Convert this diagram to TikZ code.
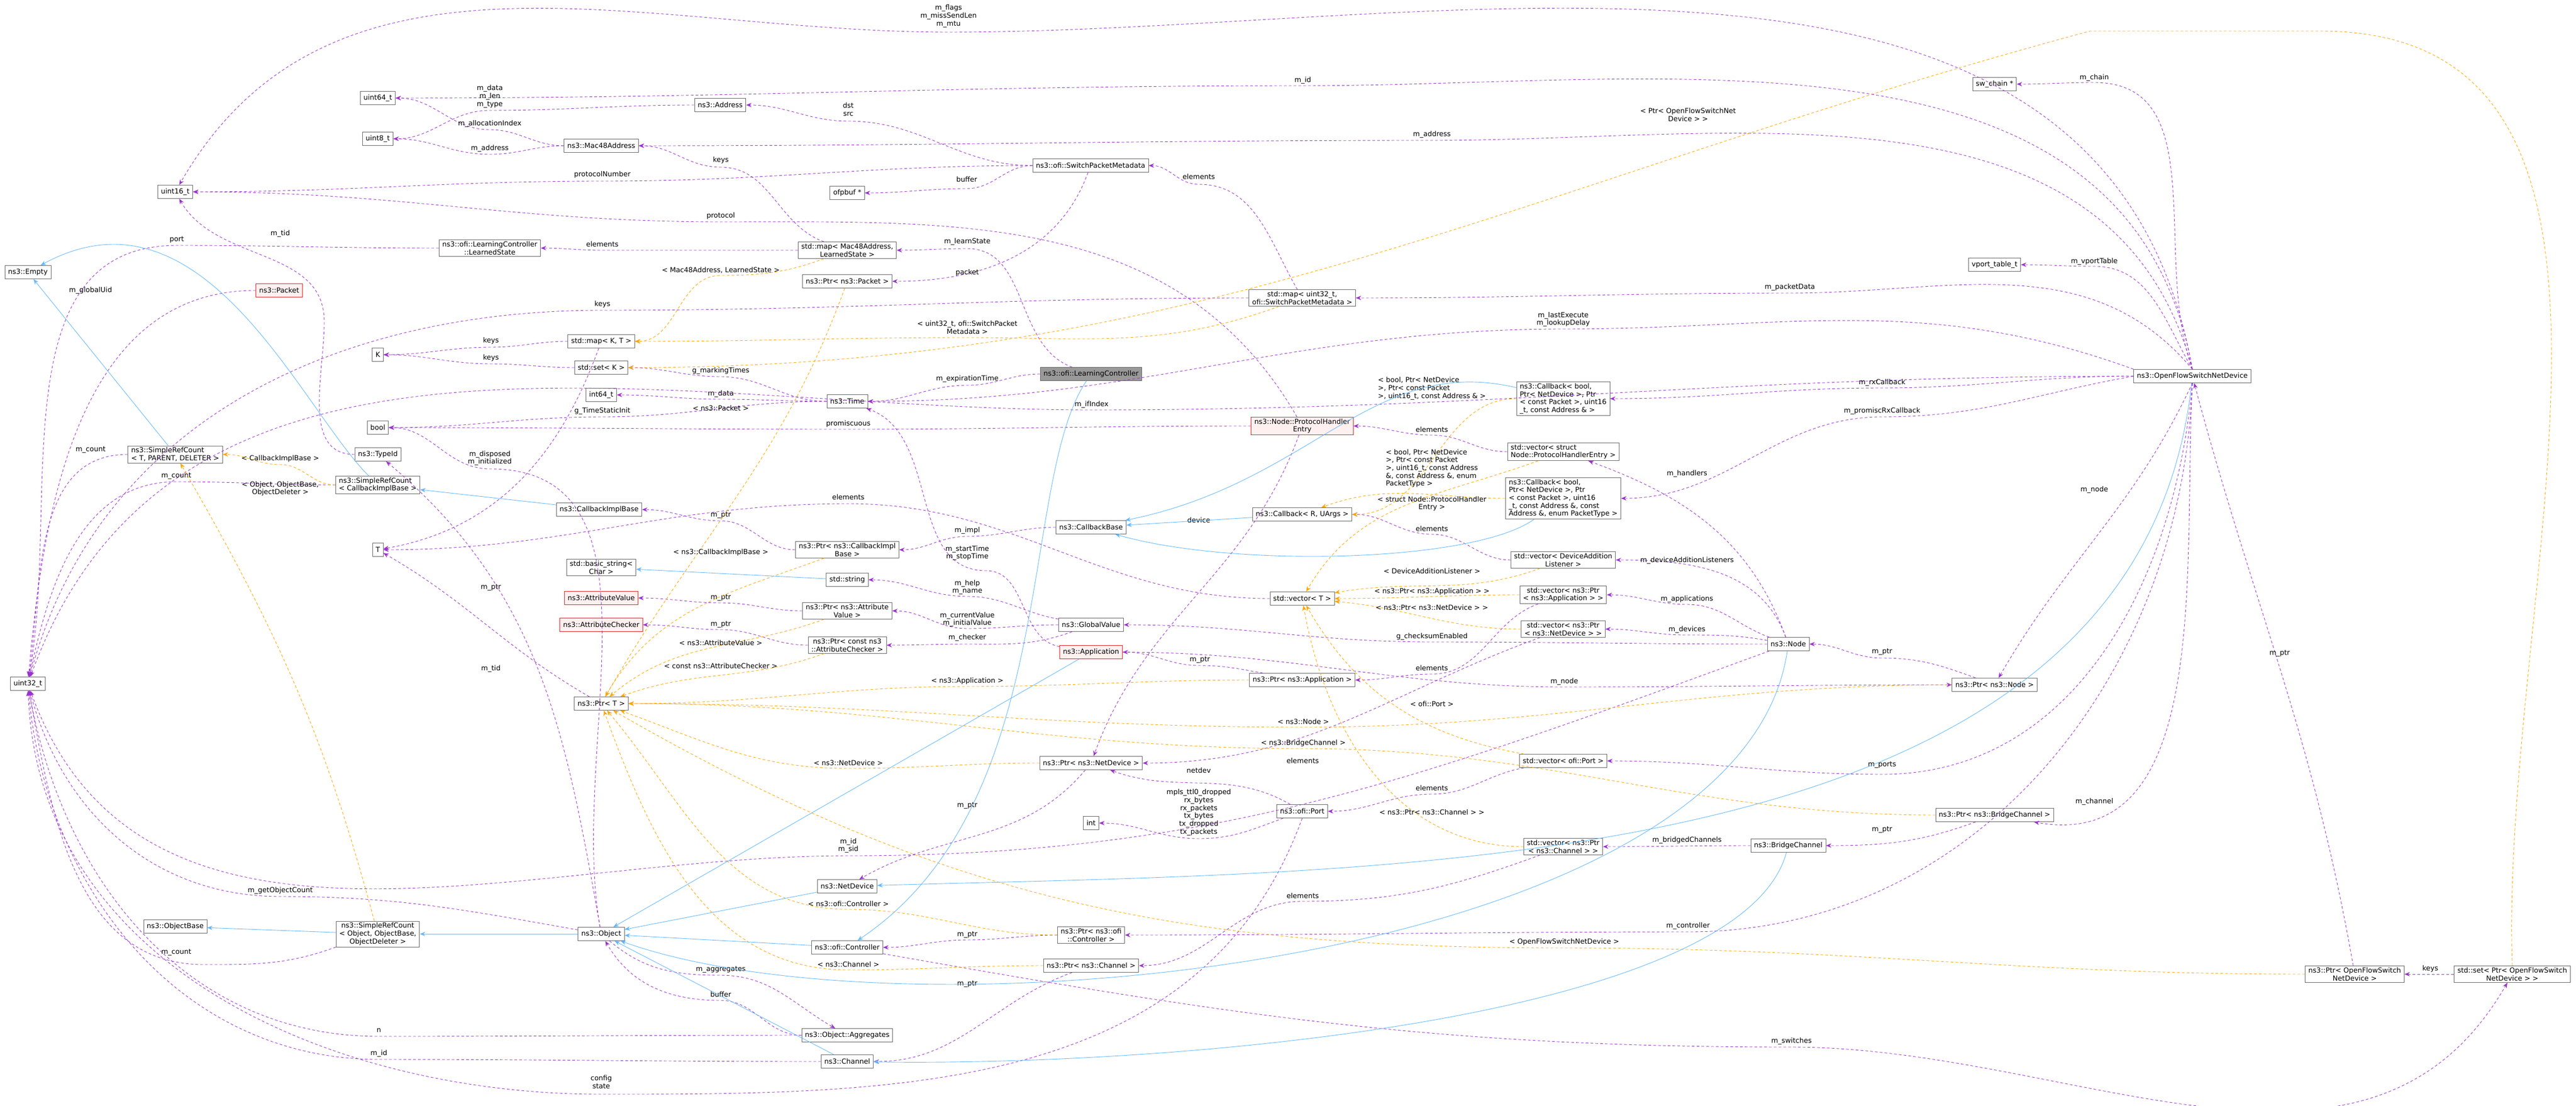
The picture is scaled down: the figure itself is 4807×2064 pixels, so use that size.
\documentclass[tikz,border=0pt]{standalone}
\usepackage{fontspec}
\setmainfont{DejaVu Sans}
\usetikzlibrary{arrows.meta}
\definecolor{boxline}{HTML}{666666}
\definecolor{usecol}{HTML}{9A32CD}
\definecolor{tplcol}{HTML}{FFA500}
\definecolor{inhcol}{HTML}{63B8FF}
\definecolor{redline}{HTML}{E02020}
\definecolor{redfill}{HTML}{FFF0F0}
\definecolor{focusfill}{HTML}{999999}
\tikzstyle{class} = [rectangle, draw=boxline, fill=white, line width=0.09pt, inner xsep=0.6pt, inner ysep=0.3pt, minimum height=2.5pt, align=center, font=\fontsize{1.3}{1.47}\selectfont]
\tikzstyle{redclass} = [class, draw=redline, fill=redfill]
\tikzstyle{focusclass} = [class, fill=focusfill]
\tikzstyle{lbl} = [align=center, inner sep=0.1pt, font=\fontsize{1.3}{1.47}\selectfont]
\tikzstyle{usage} = [draw=usecol, line width=0.09pt, dash pattern=on 0.5pt off 0.4pt, -{Stealth[length=1pt,width=0.8pt]}]
\tikzstyle{templ} = [draw=tplcol, line width=0.09pt, dash pattern=on 0.5pt off 0.4pt, -{Stealth[length=1pt,width=0.8pt]}]
\tikzstyle{inherit} = [draw=inhcol, line width=0.09pt, -{Stealth[length=1pt,width=0.8pt]}]
\tikzstyle{left} = [out=180, in=0]

\begin{document}
\begin{tikzpicture}[x=0.1pt, y=-0.1pt]
\useasboundingbox (0,0) rectangle (4807,2064);

% Left column
\node (u64) [class] at (705,183) {uint64\_t};
\node (u8) [class] at (705,259) {uint8\_t};
\node (mac) [class] at (1122,272) {ns3::Mac48Address};
\node (u16) [class] at (327,358) {uint16\_t};
\node (empty) [class] at (52,508) {ns3::Empty};
\node (learned) [class] at (914,463) {ns3::ofi::LearningController\\::LearnedState};
\node (packet) [redclass] at (521,542) {ns3::Packet};
\node (kk) [class] at (705,662) {K};
\node (mapkt) [class] at (1122,637) {std::map< K, T >};
\node (setk) [class] at (1122,686) {std::set< K >};
\node (i64) [class] at (1122,737) {int64\_t};
\node (bool) [class] at (705,798) {bool};
\node (typeid) [class] at (705,848) {ns3::TypeId};
\node (srcT) [class, align=left] at (327,848) {ns3::SimpleRefCount\\< T, PARENT, DELETER >};
\node (srcCb) [class, align=left] at (705,905) {ns3::SimpleRefCount\\< CallbackImplBase >};
\node (cbimpl) [class] at (1118,951) {ns3::CallbackImplBase};
\node (tt) [class] at (705,1026) {T};
\node (bstring) [class] at (1122,1059) {std::basic\_string<\\Char >};
\node (attrval) [redclass] at (1122,1116) {ns3::AttributeValue};
\node (attrchk) [redclass] at (1122,1166) {ns3::AttributeChecker};
\node (u32) [class] at (52,1276) {uint32\_t};
\node (ptrT) [class] at (1122,1313) {ns3::Ptr< T >};
\node (objbase) [class] at (327,1729) {ns3::ObjectBase};
\node (srcObj) [class] at (705,1743) {ns3::SimpleRefCount\\< Object, ObjectBase,\\ObjectDeleter >};
\node (object) [class] at (1122,1743) {ns3::Object};

% Middle columns
\node (address) [class] at (1344,196) {ns3::Address};
\node (spm) [class] at (2035,309) {ns3::ofi::SwitchPacketMetadata};
\node (ofpbuf) [class] at (1581,360) {ofpbuf *};
\node (mapLS) [class] at (1581,467) {std::map< Mac48Address,\\LearnedState >};
\node (ptrPkt) [class] at (1581,525) {ns3::Ptr< ns3::Packet >};
\node (lc) [focusclass] at (2036,698) {ns3::ofi::LearningController};
\node (time) [class] at (1581,749) {ns3::Time};
\node (cbbase) [class] at (2036,984) {ns3::CallbackBase};
\node (ptrCb) [class] at (1581,1026) {ns3::Ptr< ns3::CallbackImpl\\Base >};
\node (string) [class] at (1581,1082) {std::string};
\node (ptrAV) [class] at (1581,1140) {ns3::Ptr< ns3::Attribute\\Value >};
\node (ptrAC) [class] at (1581,1204) {ns3::Ptr< const ns3\\::AttributeChecker >};
\node (gval) [class] at (2036,1166) {ns3::GlobalValue};
\node (app) [redclass] at (2036,1217) {ns3::Application};
\node (ptrND) [class] at (2036,1424) {ns3::Ptr< ns3::NetDevice >};
\node (int) [class] at (2036,1536) {int};
\node (netdev) [class] at (1581,1654) {ns3::NetDevice};
\node (ptrCtl) [class] at (2036,1745) {ns3::Ptr< ns3::ofi\\::Controller >};
\node (ctl) [class] at (1581,1768) {ns3::ofi::Controller};
\node (ptrCh) [class] at (2036,1802) {ns3::Ptr< ns3::Channel >};
\node (aggr) [class] at (1581,1932) {ns3::Object::Aggregates};
\node (channel) [class] at (1581,1981) {ns3::Channel};

\node (mapSPM) [class] at (2430,556) {std::map< uint32\_t,\\ofi::SwitchPacketMetadata >};
\node (phe) [redclass] at (2430,795) {ns3::Node::ProtocolHandler\\Entry};
\node (cbR) [class] at (2430,960) {ns3::Callback< R, UArgs >};
\node (vecT) [class] at (2430,1117) {std::vector< T >};
\node (ptrApp) [class] at (2430,1269) {ns3::Ptr< ns3::Application >};
\node (port) [class] at (2430,1514) {ns3::ofi::Port};

\node (cb4) [class, align=left] at (2917,744) {ns3::Callback< bool,\\ Ptr< NetDevice >, Ptr\\< const Packet >, uint16\\\_t, const Address \& >};
\node (vecPHE) [class, align=left] at (2917,843) {std::vector< struct\\ Node::ProtocolHandlerEntry >};
\node (cb5) [class, align=left] at (2917,930) {ns3::Callback< bool,\\ Ptr< NetDevice >, Ptr\\< const Packet >, uint16\\\_t, const Address \&, const\\ Address \&, enum PacketType >};
\node (vecDAL) [class] at (2917,1045) {std::vector< DeviceAddition\\Listener >};
\node (vecApp) [class] at (2917,1110) {std::vector< ns3::Ptr\\< ns3::Application > >};
\node (vecND) [class] at (2917,1174) {std::vector< ns3::Ptr\\< ns3::NetDevice > >};
\node (vecPort) [class] at (2917,1420) {std::vector< ofi::Port >};
\node (vecCh) [class] at (2917,1580) {std::vector< ns3::Ptr\\< ns3::Channel > >};
\node (node) [class] at (3337,1202) {ns3::Node};
\node (bridge) [class] at (3337,1578) {ns3::BridgeChannel};

% Right side
\node (swchain) [class] at (3722,157) {sw\_chain *};
\node (vport) [class] at (3722,494) {vport\_table\_t};
\node (ofsnd) [class] at (4091,702) {ns3::OpenFlowSwitchNetDevice};
\node (ptrNode) [class] at (3722,1278) {ns3::Ptr< ns3::Node >};
\node (ptrBr) [class] at (3722,1521) {ns3::Ptr< ns3::BridgeChannel >};
\node (ptrOF) [class] at (4394,1818) {ns3::Ptr< OpenFlowSwitch\\NetDevice >};
\node (setOF) [class] at (4688,1818) {std::set< Ptr< OpenFlowSwitch\\NetDevice > >};

% Member links
\draw [usage] (ofsnd.north) to[out=100, in=0] (1770,60) to[out=180, in=60] (u16) node[lbl, at={(1770,30)}] {m\_flags\\m\_missSendLen\\m\_mtu};
\draw [usage] (ofsnd.north) to[out=100, in=0] (2431,160) to[left] (u64) node[lbl, at={(2431,150)}] {m\_id};
\draw [usage] (ofsnd.north) to[out=105, in=0] (2672,262) to[left] (mac) node[lbl, at={(2672,251)}] {m\_address};
\draw [usage] (ofsnd.north) to[out=110, in=0] (3908,154) to[left] (swchain) node[lbl, at={(3908,145)}] {m\_chain};
\draw [usage] (ofsnd.north) to[out=120, in=0] (3908,497) to[left] (vport) node[lbl, at={(3908,488)}] {m\_vportTable};
\draw [usage] (ofsnd.north) to[out=130, in=0] (3340,547) to[left] (mapSPM) node[lbl, at={(3340,536)}] {m\_packetData};
\draw [usage] (ofsnd.north west) to[out=160, in=0] (2917,614) to[left] (time) node[lbl, at={(2917,596)}] {m\_lastExecute\\m\_lookupDelay};
\draw [usage] (mac) to[left] (914,242) to[left] (u64) node[lbl, at={(914,231)}] {m\_allocationIndex};
\draw [usage] (address) to[left] (914,206) to[left] (u8) node[lbl, at={(914,180)}] {m\_data\\m\_len\\m\_type};
\draw [usage] (mac) to[left] (914,288) to[left] (u8) node[lbl, at={(914,277)}] {m\_address};
\draw [usage] (spm) to[left] (1583,226) to[left] (address) node[lbl, at={(1583,204)}] {dst\\src};
\draw [usage] (mapLS) to[out=160, in=0] (1345,312) to[left] (mac) node[lbl, at={(1345,299)}] {keys};
\draw [usage] (spm) to[left] (1124,338) to[left] (u16) node[lbl, at={(1124,326)}] {protocolNumber};
\draw [usage] (spm) to[left] (1804,352) to[left] (ofpbuf) node[lbl, at={(1804,335)}] {buffer};
\draw [usage] (spm) to[out=-110, in=0] (ptrPkt) node[lbl, at={(1805,509)}] {packet};
\draw [usage] (mapSPM) to[out=120, in=0] (2237,344) to[left] (spm) node[lbl, at={(2237,330)}] {elements};
\draw [usage] (phe) to[out=120, in=0] (1345,414) to[left] (u16) node[lbl, at={(1345,403)}] {protocol};
\draw [usage] (mapLS) to[left] (1124,467) to[left] (learned) node[lbl, at={(1124,456)}] {elements};
\draw [usage] (learned) to[left] (330,458) to[out=180, in=80] (u32) node[lbl, at={(330,447)}] {port};
\draw [usage] (typeid.west) to[out=180, in=-90] (605,600) to[out=90, in=-60] (u16) node[lbl, at={(523,436)}] {m\_tid};
\draw [usage] (packet) to[out=180, in=85] (u32) node[lbl, at={(169,542)}] {m\_globalUid};
\draw [usage] (mapSPM) to[left] (1124,579) to[out=180, in=75] (u32) node[lbl, at={(1124,568)}] {keys};
\draw [usage] (mapkt) to[left] (916,648) to[left] (kk) node[lbl, at={(916,636)}] {keys};
\draw [usage] (setk) to[left] (916,679) to[left] (kk) node[lbl, at={(916,668)}] {keys};
\draw [usage] (lc) to[out=160, in=0] (1805,464) to[left] (mapLS) node[lbl, at={(1805,451)}] {m\_learnState};
\draw [usage] (lc) to[left] (1805,719) to[left] (time) node[lbl, at={(1805,707)}] {m\_expirationTime};
\draw [usage] (time) to[left] (1345,745) to[left] (i64) node[lbl, at={(1345,735)}] {m\_data};
\draw [usage] (time) to[left] (1345,703) to[left] (setk) node[lbl, at={(1345,692)}] {g\_markingTimes};
\draw [usage] (time) to[left] (1124,778) to[left] (bool) node[lbl, at={(1124,767)}] {g\_TimeStaticInit};
\draw [usage] (phe) to[left] (1583,801) to[left] (bool) node[lbl, at={(1583,791)}] {promiscuous};
\draw [usage] (object) to[out=100, in=0] (914,875) to[left] (bool) node[lbl, at={(914,855)}] {m\_disposed\\m\_initialized};
\draw [usage] (vecT) to[left] (1583,940) to[left] (tt) node[lbl, at={(1583,928)}] {elements};
\draw [usage] (mapkt) to[out=-110, in=10] (tt);
\draw [usage] (ptrT) to[out=150, in=-30] (tt) node[lbl, at={(916,1096)}] {m\_ptr};
\draw [usage] (object) to[out=100, in=-40] (typeid) node[lbl, at={(916,1248)}] {m\_tid};
\draw [usage] (ofsnd.west) to[left] (2037,765) to[out=180, in=70] (u32) node[lbl, at={(2037,755)}] {m\_ifIndex};
\draw [usage] (ofsnd.west) to[left] (3512,724) to[left] (cb4) node[lbl, at={(3512,714)}] {m\_rxCallback};
\draw [usage] (ofsnd.west) to[out=190, in=0] (3512,778) to[left] (cb5) node[lbl, at={(3512,767)}] {m\_promiscRxCallback};
\draw [usage] (vecPHE) to[left] (2672,812) to[left] (phe) node[lbl, at={(2672,802)}] {elements};
\draw [usage] (node) to[out=110, in=-20] (vecPHE) node[lbl, at={(3148,884)}] {m\_handlers};
\draw [usage] (vecDAL) to[left] (2672,997) to[left] (cbR) node[lbl, at={(2672,987)}] {elements};
\draw [usage] (node) to[out=110, in=0] (vecDAL) node[lbl, at={(3148,1046)}] {m\_deviceAdditionListeners};
\draw [usage] (node) to[out=160, in=0] (3148,1128) to[left] (vecApp) node[lbl, at={(3148,1118)}] {m\_applications};
\draw [usage] (node) to[out=170, in=0] (3148,1185) to[left] (vecND) node[lbl, at={(3148,1175)}] {m\_devices};
\draw [usage] (node) to[left] (2672,1198) to[left] (gval) node[lbl, at={(2672,1188)}] {g\_checksumEnabled};
\draw [usage] (vecApp) to[out=200, in=0] (2672,1258) to[left] (ptrApp) node[lbl, at={(2672,1247)}] {elements};
\draw [usage] (ofsnd.south) to[out=-115, in=60] (ptrNode) node[lbl, at={(3908,914)}] {m\_node};
\draw [usage] (app) to[out=0, in=180] (2919,1282) to[out=0, in=180] (ptrNode) node[lbl, at={(2919,1272)}] {m\_node};
\draw [usage] (ptrNode) to[out=160, in=0] (3512,1228) to[left] (node) node[lbl, at={(3512,1216)}] {m\_ptr};
\draw [usage] (ptrApp) to[out=170, in=0] (2239,1242) to[left] (app) node[lbl, at={(2239,1231)}] {m\_ptr};
\draw [usage] (gval) to[out=170, in=0] (1805,1113) to[left] (string) node[lbl, at={(1805,1096)}] {m\_help\\m\_name};
\draw [usage] (gval) to[left] (1805,1173) to[left] (ptrAV) node[lbl, at={(1805,1156)}] {m\_currentValue\\m\_initialValue};
\draw [usage] (gval) to[out=200, in=0] (1805,1202) to[left] (ptrAC) node[lbl, at={(1805,1190)}] {m\_checker};
\draw [usage] (ptrAV) to[left] (1345,1125) to[left] (attrval) node[lbl, at={(1345,1115)}] {m\_ptr};
\draw [usage] (ptrAC) to[left] (1345,1175) to[left] (attrchk) node[lbl, at={(1345,1165)}] {m\_ptr};
\draw [usage] (ptrCb) to[left] (1345,972) to[left] (cbimpl) node[lbl, at={(1345,961)}] {m\_ptr};
\draw [usage] (cbbase) to[left] (1805,1001) to[left] (ptrCb) node[lbl, at={(1805,990)}] {m\_impl};
\draw [usage] (app) to[out=170, in=0] (1840,1065) to[out=180, in=-20] (time) node[lbl, at={(1805,1032)}] {m\_startTime\\m\_stopTime};
\draw [usage] (phe) to[out=-110, in=70] (ptrND) node[lbl, at={(2237,971)}] {device};
\draw [usage] (vecND) to[out=200, in=0] (ptrND) node[lbl, at={(2431,1420)}] {elements};
\draw [usage] (port) to[out=150, in=-20] (ptrND) node[lbl, at={(2237,1438)}] {netdev};
\draw [usage] (port) to[out=200, in=0] (2237,1565) to[left] (int) node[lbl, at={(2237,1516)}] {mpls\_ttl0\_dropped\\rx\_bytes\\rx\_packets\\tx\_bytes\\tx\_dropped\\tx\_packets};
\draw [usage] (vecPort) to[out=190, in=0] (2672,1482) to[left] (port) node[lbl, at={(2672,1471)}] {elements};
\draw [usage] (ofsnd.south) to[out=-95, in=0] (3512,1445) to[left] (vecPort) node[lbl, at={(3512,1427)}] {m\_ports};
\draw [usage] (ptrND) to[out=-130, in=30] (netdev) node[lbl, at={(1805,1503)}] {m\_ptr};
\draw [usage] (node) to[out=200, in=0] (1583,1597) to[out=180, in=-70] (u32) node[lbl, at={(1583,1578)}] {m\_id\\m\_sid};
\draw [usage] (ptrCtl) to[left] (1805,1754) to[left] (ctl) node[lbl, at={(1805,1744)}] {m\_ptr};
\draw [usage] (ofsnd.south) to[out=-92, in=0] (3150,1739) to[left] (ptrCtl) node[lbl, at={(3150,1728)}] {m\_controller};
\draw [usage] (ptrCh) to[out=200, in=0] (channel) node[lbl, at={(1805,1836)}] {m\_ptr};
\draw [usage] (vecCh) to[out=200, in=0] (2431,1682) to[left] (ptrCh) node[lbl, at={(2431,1672)}] {elements};
\draw [usage] (bridge) to[left] (vecCh) node[lbl, at={(3148,1568)}] {m\_bridgedChannels};
\draw [usage] (ptrBr) to[out=200, in=0] (bridge) node[lbl, at={(3512,1548)}] {m\_ptr};
\draw [usage] (ofsnd.south) to[out=-93, in=-10] (ptrBr) node[lbl, at={(3908,1496)}] {m\_channel};
\draw [usage] (ctl) to[out=-10, in=180] (3343,1954) to[out=0, in=-120] (setOF) node[lbl, at={(3343,1943)}] {m\_switches};
\draw [usage] (ptrOF) to[out=100, in=-75] (ofsnd) node[lbl, at={(4254,1219)}] {m\_ptr};
\draw [usage] (setOF) -- (ptrOF) node[lbl, at={(4535,1808)}] {keys};
\draw [usage] (object) to[out=-40, in=180] (1345,1820) to[out=0, in=150] (aggr) node[lbl, at={(1345,1809)}] {m\_aggregates};
\draw [usage] (aggr) to[left] (1345,1867) to[out=180, in=-60] (object) node[lbl, at={(1345,1856)}] {buffer};
\draw [usage] (aggr) to[left] (707,1934) to[out=180, in=-80] (u32) node[lbl, at={(707,1923)}] {n};
\draw [usage] (channel) to[left] (707,1977) to[out=180, in=-85] (u32) node[lbl, at={(707,1966)}] {m\_id};
\draw [usage] (port.south) to[out=-110, in=0] (1122,2042) to[out=180, in=-88] (u32) node[lbl, at={(1122,2019)}] {config\\state};
\draw [usage] (object) to[out=170, in=0] (523,1673) to[out=180, in=-75] (u32) node[lbl, at={(523,1662)}] {m\_getObjectCount};
\draw [usage] (srcObj.south west) to[out=200, in=0] (380,1800) to[out=180, in=-80] (u32) node[lbl, at={(329,1777)}] {m\_count};
\draw [usage] (srcT) to[out=180, in=82] (u32) node[lbl, at={(169,839)}] {m\_count};
\draw [usage] (srcCb) to[left] (329,899) to[out=180, in=78] (u32) node[lbl, at={(329,888)}] {m\_count};

% Template links
\draw [templ] (mapLS) to[out=200, in=0] (1345,514) to[left] (mapkt) node[lbl, at={(1345,504)}] {< Mac48Address, LearnedState >};
\draw [templ] (mapSPM) to[out=200, in=0] (1805,630) to[left] (mapkt) node[lbl, at={(1805,611)}] {< uint32\_t, ofi::SwitchPacket\\Metadata >};
\draw [templ] (setOF.north) to[out=92, in=0] (4330,58) -- (3900,58) to[out=195, in=0] (setk) node[lbl, at={(3150,214)}] {< Ptr< OpenFlowSwitchNet\\Device > >};
\draw [templ] (ptrPkt) to[out=-110, in=60] (ptrT) node[lbl, at={(1345,762)}] {< ns3::Packet >};
\draw [templ] (ptrCb) to[out=200, in=60] (ptrT) node[lbl, at={(1345,1031)}] {< ns3::CallbackImplBase >};
\draw [templ] (srcCb) to[left] (523,867) to[left] (srcT) node[lbl, at={(523,856)}] {< CallbackImplBase >};
\draw [templ] (srcObj) to[out=105, in=-60] (srcT) node[lbl, at={(523,912)}] {< Object, ObjectBase,\\ObjectDeleter >};
\draw [templ] (ptrAV) to[out=200, in=40] (ptrT) node[lbl, at={(1345,1200)}] {< ns3::AttributeValue >};
\draw [templ] (ptrAC) to[out=200, in=20] (ptrT) node[lbl, at={(1345,1243)}] {< const ns3::AttributeChecker >};
\draw [templ] (ptrApp) to[left] (1805,1281) to[left] (ptrT) node[lbl, at={(1805,1271)}] {< ns3::Application >};
\draw [templ] (ptrND) to[left] (1583,1434) to[out=180, in=-20] (ptrT) node[lbl, at={(1583,1424)}] {< ns3::NetDevice >};
\draw [templ] (ptrCtl) to[left] (1583,1697) to[out=180, in=-50] (ptrT) node[lbl, at={(1583,1687)}] {< ns3::ofi::Controller >};
\draw [templ] (ptrCh) to[left] (1583,1810) to[out=180, in=-70] (ptrT) node[lbl, at={(1583,1800)}] {< ns3::Channel >};
\draw [templ] (ptrNode) to[left] (2432,1357) to[left] (ptrT) node[lbl, at={(2432,1347)}] {< ns3::Node >};
\draw [templ] (ptrBr) to[left] (2432,1397) to[left] (ptrT) node[lbl, at={(2432,1387)}] {< ns3::BridgeChannel >};
\draw [templ] (ptrOF) to[left] (2919,1769) to[out=180, in=-30] (ptrT) node[lbl, at={(2919,1758)}] {< OpenFlowSwitchNetDevice >};
\draw [templ] (cb4) to[left] (cbR) node[lbl, align=left, at={(2672,725)}] {< bool, Ptr< NetDevice\\>, Ptr< const Packet\\>, uint16\_t, const Address \& >};
\draw [templ] (cb5) to[out=180, in=20] (cbR) node[lbl, align=left, at={(2672,874)}] {< bool, Ptr< NetDevice\\>, Ptr< const Packet\\>, uint16\_t, const Address\\\&, const Address \&, enum\\PacketType >};
\draw [templ] (vecPHE) to[out=200, in=60] (vecT) node[lbl, at={(2672,940)}] {< struct Node::ProtocolHandler\\Entry >};
\draw [templ] (vecDAL) to[out=200, in=10] (vecT) node[lbl, at={(2672,1066)}] {< DeviceAdditionListener >};
\draw [templ] (vecApp) to[left] (vecT) node[lbl, at={(2672,1104)}] {< ns3::Ptr< ns3::Application > >};
\draw [templ] (vecND) to[out=180, in=-5] (vecT) node[lbl, at={(2672,1134)}] {< ns3::Ptr< ns3::NetDevice > >};
\draw [templ] (vecPort) to[out=170, in=-60] (vecT) node[lbl, at={(2672,1314)}] {< ofi::Port >};
\draw [templ] (vecCh) to[out=180, in=-80] (vecT) node[lbl, at={(2672,1516)}] {< ns3::Ptr< ns3::Channel > >};

% Inheritance
\draw [inherit] (srcT) -- (empty);
\draw [inherit] (srcCb) .. controls (560,760) and (380,330) .. (empty);
\draw [inherit] (cbimpl) -- (srcCb);
\draw [inherit] (srcObj) -- (objbase);
\draw [inherit] (object) -- (srcObj);
\draw [inherit] (string) -- (bstring);
\draw [inherit] (lc) .. controls (1900,900) and (1980,1500) .. (ctl);
\draw [inherit] (cbR) -- (cbbase);
\draw [inherit] (cb4) .. controls (2560,660) and (2450,900) .. (cbbase);
\draw [inherit] (cb5) .. controls (2750,1050) and (2300,1060) .. (cbbase);
\draw [inherit] (app) -- (object);
\draw [inherit] (netdev) -- (object);
\draw [inherit] (ctl) -- (object);
\draw [inherit] (channel) -- (object);
\draw [inherit] (node) .. controls (3250,1800) and (1700,1950) .. (object);
\draw [inherit] (bridge) .. controls (3250,1900) and (2200,1990) .. (channel);
\draw [inherit] (ofsnd) .. controls (3990,1650) and (2600,1624) .. (netdev);

\end{tikzpicture}
\end{document}
